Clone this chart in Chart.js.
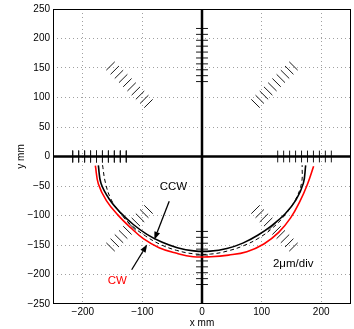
<!DOCTYPE html>
<html>
<head>
<meta charset="utf-8">
<script src="https://cdn.jsdelivr.net/npm/chart.js@4/dist/chart.umd.min.js"></script>
<style>
html,body{margin:0;padding:0;background:#fff;}
#wrap{width:354px;height:329px;}
</style>
</head>
<body>
<div id="wrap"><canvas id="c" width="354" height="329"></canvas></div>
<script>
// ---- axis ticks ----
const xTicks = [-200, -100, 0, 100, 200];
const yTicks = [-250, -200, -150, -100, -50, 0, 50, 100, 150, 200, 250];

// ---- measured curves, polar readings: angle (deg) and plotted radius (mm) ----
const curveAngles = [185, 195, 205, 215, 225, 235, 245, 255, 265, 275, 285, 295, 305, 315, 325, 335, 345, 355];
const ccwR = [174.6, 175.5, 171.5, 166.5, 163, 161, 160, 160, 160.5, 161, 161.5, 162, 163, 165.5, 170, 174, 176, 174.6];
const cwR  = [179.6, 180, 177, 172.5, 170, 170.5, 170.5, 169.5, 170.5, 170.5, 173, 178, 181, 182, 181.5, 181, 183, 188];
const refR = [167.5, 168, 169, 167.5, 166, 164.7, 164.6, 164.7, 165.5, 166, 165.8, 166.5, 168, 169.5, 171, 173, 173, 168.7];

// ---- scale division marks (2 um/div) ----
const divAngles = [0, 45, 90, 135, 180, 225, 270, 315];
const divRadii = [127, 137, 147, 157, 167, 177, 187, 197, 207, 217];
const divHalf = 10;

// ---- axes lines ----
const axisSpan = [-250, 250];

// ---- annotations ----
const arrowFromX = [-55, -118];
const arrowFromY = [-76, -192];
const arrowToX = [-80, -92];
const arrowToY = [-141, -149];
const labelText = ['CCW', 'CW', '2\u03bcm/div'];
const labelX = [-48, -142, 153];
const labelY = [-52, -210, -182];
const labelColor = ['#000', '#ff0000', '#000'];

const pts = (xs, ys) => xs.map((x, i) => ({x: x, y: ys[i]}));
const polar = (angs, rs) => angs.map((a, i) => {
  const t = a * Math.PI / 180;
  return {x: rs[i] * Math.cos(t), y: rs[i] * Math.sin(t)};
});

const datasets = [];
datasets.push({data: polar(curveAngles, ccwR), borderColor: '#000', borderWidth: 1.6, tension: 0.4, order: 1});
datasets.push({data: polar(curveAngles, refR), borderColor: '#000', borderWidth: 1, borderDash: [4, 3], tension: 0.4, order: 2});
datasets.push({data: polar(curveAngles, cwR), borderColor: '#ff0000', borderWidth: 1.6, tension: 0.4, order: 0});
datasets.push({data: pts(axisSpan, [0, 0]), borderColor: '#000', borderWidth: 2.5, order: 5});
datasets.push({data: pts([0, 0], axisSpan), borderColor: '#000', borderWidth: 2.5, order: 5});
divAngles.forEach(a => {
  const t = a * Math.PI / 180;
  const c = Math.cos(t), s = Math.sin(t);
  divRadii.forEach(r => {
    const cx = r * c, cy = r * s;
    datasets.push({
      data: [{x: cx + divHalf * s, y: cy - divHalf * c}, {x: cx - divHalf * s, y: cy + divHalf * c}],
      borderColor: '#1a1a1a', borderWidth: 1, order: 10
    });
  });
});
datasets.forEach(d => { d.showLine = true; d.pointRadius = 0; d.pointHoverRadius = 0; d.fill = false; });

const fmt = v => v < 0 ? '\u2212' + Math.abs(v) : String(v);

const overlay = {
  id: 'overlay',
  afterDatasetsDraw(chart) {
    const ctx = chart.ctx, xs = chart.scales.x, ys = chart.scales.y, a = chart.chartArea;
    ctx.save();
    ctx.strokeStyle = '#000';
    ctx.lineWidth = 1;
    ctx.strokeRect(Math.round(a.left) + 0.5, Math.round(a.top) + 0.5, Math.round(a.right - a.left) - 1, Math.round(a.bottom - a.top) - 1);
    for (let i = 0; i < arrowFromX.length; i++) {
      const x1 = xs.getPixelForValue(arrowFromX[i]), y1 = ys.getPixelForValue(arrowFromY[i]);
      const x2 = xs.getPixelForValue(arrowToX[i]), y2 = ys.getPixelForValue(arrowToY[i]);
      const ang = Math.atan2(y2 - y1, x2 - x1);
      const hl = 8, hw = 3;
      ctx.strokeStyle = '#000'; ctx.fillStyle = '#000'; ctx.lineWidth = 1.3;
      ctx.beginPath();
      ctx.moveTo(x1, y1);
      ctx.lineTo(x2 - hl * Math.cos(ang), y2 - hl * Math.sin(ang));
      ctx.stroke();
      ctx.beginPath();
      ctx.moveTo(x2, y2);
      ctx.lineTo(x2 - hl * Math.cos(ang) - hw * Math.sin(ang), y2 - hl * Math.sin(ang) + hw * Math.cos(ang));
      ctx.lineTo(x2 - hl * Math.cos(ang) + hw * Math.sin(ang), y2 - hl * Math.sin(ang) - hw * Math.cos(ang));
      ctx.closePath();
      ctx.fill();
    }
    ctx.font = '11.5px "Liberation Sans", Arial, sans-serif';
    ctx.textAlign = 'center';
    ctx.textBaseline = 'middle';
    for (let i = 0; i < labelText.length; i++) {
      ctx.fillStyle = labelColor[i];
      ctx.fillText(labelText[i], xs.getPixelForValue(labelX[i]), ys.getPixelForValue(labelY[i]));
    }
    ctx.restore();
  }
};

Chart.defaults.font.family = '"Liberation Sans", Arial, sans-serif';
Chart.defaults.font.size = 10;
Chart.defaults.color = '#000';

const gridColor = c => (c.tick && (c.tick.value === 0 || Math.abs(c.tick.value) === 250)) ? 'rgba(0,0,0,0)' : '#a0a0a0';

new Chart(document.getElementById('c'), {
  type: 'scatter',
  data: {datasets: datasets},
  options: {
    responsive: false,
    animation: false,
    events: [],
    layout: {padding: {left: 0, right: 3, top: 5, bottom: 0}},
    plugins: {legend: {display: false}, tooltip: {enabled: false}},
    scales: {
      x: {
        type: 'linear', min: -250, max: 250,
        afterBuildTicks: s => { s.ticks = xTicks.map(v => ({value: v})); },
        afterFit: s => { s.height = 25; },
        ticks: {callback: fmt, padding: 2, maxRotation: 0, autoSkip: false, font: {size: 10}},
        grid: {drawTicks: false, lineWidth: 1, color: gridColor},
        border: {display: false, dash: [1, 3]},
        title: {display: true, text: 'x mm', font: {size: 10}, padding: {top: 0, bottom: 0}}
      },
      y: {
        type: 'linear', min: -250, max: 250,
        afterBuildTicks: s => { s.ticks = yTicks.map(v => ({value: v})); },
        afterFit: s => { s.width = 53; },
        ticks: {callback: fmt, padding: 3, autoSkip: false, font: {size: 10}},
        grid: {drawTicks: false, lineWidth: 1, color: gridColor},
        border: {display: false, dash: [1, 3]},
        title: {display: true, text: 'y mm', font: {size: 10}, padding: {top: 15, bottom: 0}}
      }
    }
  },
  plugins: [overlay]
});
</script>
</body>
</html>
